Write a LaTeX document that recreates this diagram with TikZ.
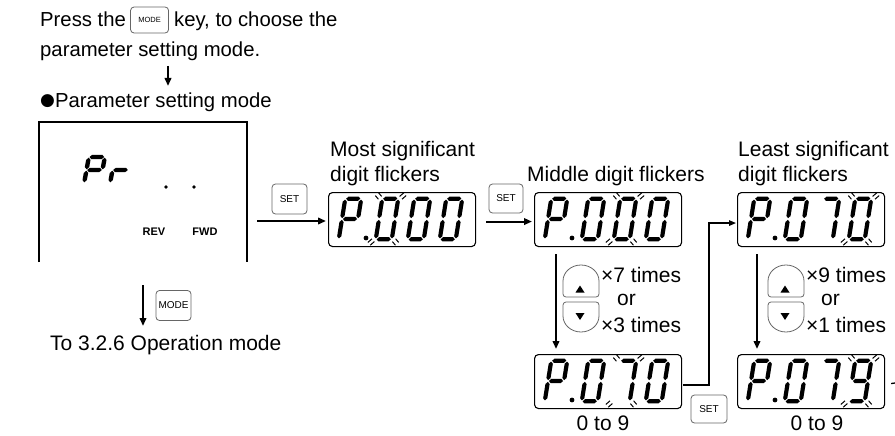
\documentclass[tikz,border=0pt]{standalone}
\usepackage{fontspec}
\setmainfont{Liberation Sans}
\newfontfamily\dejavu{DejaVu Sans}
\usetikzlibrary{arrows.meta,calc}
\def\sgT{2.1}\def\sgW{16}\def\sgH{20.3}\def\sgG{0.9}\def\sgS{0.16}
\def\hsg#1#2#3{\fill ({#1},{#3}) -- ({#1+\sgT},{#3-\sgT}) -- ({#2-\sgT},{#3-\sgT}) -- ({#2},{#3}) -- ({#2-\sgT},{#3+\sgT}) -- ({#1+\sgT},{#3+\sgT}) -- cycle;}
\def\vsg#1#2#3{\fill ({#1},{#2}) -- ({#1+\sgT},{#2+\sgT}) -- ({#1+\sgT},{#3-\sgT}) -- ({#1},{#3}) -- ({#1-\sgT},{#3-\sgT}) -- ({#1-\sgT},{#2+\sgT}) -- cycle;}
\def\sega{\hsg{\sgG}{\sgW-\sgG}{-\sgH}}
\def\segb{\vsg{\sgW}{-\sgH+\sgG}{-\sgG}}
\def\segc{\vsg{\sgW}{\sgG}{\sgH-\sgG}}
\def\segd{\hsg{\sgG}{\sgW-\sgG}{\sgH}}
\def\sege{\vsg{0}{\sgG}{\sgH-\sgG}}
\def\segf{\vsg{0}{-\sgH+\sgG}{-\sgG}}
\def\segg{\hsg{\sgG}{\sgW-\sgG}{0}}
\newcommand\sevdig[3]{\begin{scope}[shift={(#1,#2)},xslant=\sgS]\foreach \q in {#3}{\csname seg\q\endcsname}\end{scope}}
\def\fmk#1#2#3#4{\draw[flk] ({#1-(#4)*1.4},{#2+(#3)*1.4}) -- ++({(#3)*3.6},{(#4)*3.6}); \draw[flk] ({#1+(#4)*1.4},{#2-(#3)*1.4}) -- ++({(#3)*3.6},{(#4)*3.6});}
\newcommand\flkr[2]{\begin{scope}[shift={(#1,#2)},xslant=\sgS]
 \fmk{-\sgT-0.3}{-\sgH-\sgT+1.2}{-1}{-1}
 \fmk{\sgW+\sgT+0.3}{-\sgH-\sgT+1.2}{1}{-1}
 \fmk{-\sgT-0.3}{\sgH+\sgT-1.2}{-1}{1}
 \fmk{\sgW+\sgT+0.3}{\sgH+\sgT-1.2}{1}{1}
\end{scope}}
\newcommand\udk[2]{%
 \draw[keyline, rounded corners=3pt] (#1,{#2+16}) -- (#1,{#2+32}) -- ({#1+36},{#2+32}) -- ({#1+36},{#2+16});
 \draw[keyline] ({#1+36},{#2+16}) arc[start angle=0,end angle=180,x radius=18pt,y radius=16pt];
 \draw[keyline, rounded corners=3pt] (#1,{#2+51}) -- (#1,{#2+37}) -- ({#1+36},{#2+37}) -- ({#1+36},{#2+51});
 \draw[keyline] ({#1+36},{#2+51}) arc[start angle=0,end angle=-180,x radius=18pt,y radius=16pt];
 \fill ({#1+17},{#2+20.5}) -- ({#1+21.5},{#2+27.5}) -- ({#1+12.5},{#2+27.5}) -- cycle;
 \fill ({#1+12.5},{#2+48}) -- ({#1+21.5},{#2+48}) -- ({#1+17},{#2+55}) -- cycle;
}
\begin{document}
\begin{tikzpicture}[x=1pt,y=-1pt,
 txt/.style={inner sep=0pt, font=\fontsize{21}{25}\selectfont},
 toptxt/.style={inner sep=0pt, font=\fontsize{20.3}{24}\selectfont},
 disp/.style={draw, line width=1.1pt, rounded corners=4pt, minimum width=147pt, minimum height=54pt, inner sep=0pt},
 key/.style={draw=black!60, line width=0.8pt, rounded corners=3.5pt, fill=white, inner sep=0pt, minimum width=35pt, minimum height=30pt, font=\fontsize{10}{12}\selectfont},
 arr/.style={line width=2pt, -{Triangle[length=8pt,width=6.5pt]}},
 arrt/.style={line width=1.3pt, -{Triangle[length=7pt,width=5.5pt]}},
 flk/.style={line width=1pt},
 keyline/.style={draw=black!60, line width=0.8pt}]
\useasboundingbox (0,0) rectangle (895,436);

% top text
\node[toptxt, anchor=base west] (l1a) at (40,27) {Press the};
\node[key, minimum width=38pt, minimum height=26pt, font=\fontsize{7.5}{8}\selectfont, anchor=west] (kt) at ($(l1a.base east)+(4,-7)$) {MODE};
\node[toptxt, anchor=base west] (l1b) at ($(kt.east |- l1a.base)+(5,0)$) {key, to choose the};
\node[toptxt, anchor=base west] (l2) at (40,57) {parameter setting mode.};
\coordinate (a0s) at (168,66);
\coordinate (a0e) at (168,86);
\draw[arr] (a0s) -- (a0e);
\node[toptxt, anchor=base west] (l3) at (40,107) {{\dejavu\fontsize{17}{17}\selectfont\raisebox{1.2pt}{●}}Parameter setting mode};

% parameter mode box
\draw[line width=1.3pt] (39,262) -- (39,122) -- (247,122) -- (247,262);
\begin{scope}
\def\sgW{16}\def\sgH{13}\def\sgT{2.2}\def\sgG{0.7}\def\sgS{0.18}
\sevdig{86.5}{170}{a,b,e,f,g}
\sevdig{112.5}{170}{e,g}
\end{scope}
\fill (166,187) circle (1.8pt);
\fill (194,187) circle (1.8pt);
\node[inner sep=0pt, font=\bfseries\fontsize{11}{13}\selectfont] (rev) at (154,232) {REV};
\node[inner sep=0pt, font=\bfseries\fontsize{11}{13}\selectfont] (fwd) at (205,232) {FWD};

% MODE down
\coordinate (ms) at (143,285);
\coordinate (me) at (143,326);
\draw[arr] (ms) -- (me);
\node[key] (k0) at (173.5,305.5) {MODE};
\node[txt, anchor=base west] (t6) at (50,350) {To 3.2.6 Operation mode};

% displays
\node[disp, anchor=north west] (d1) at (328,192) {};
\node[disp, anchor=north west] (d2) at (534,192) {};
\node[disp, anchor=north west] (d3) at (737,192) {};
\node[disp, anchor=north west] (d4) at (534,354) {};
\node[disp, anchor=north west] (d5) at (737,354) {};

% labels
\node[txt, anchor=base west] (lb1a) at (330,156) {Most significant};
\node[txt, anchor=base west] (lb1b) at (330,181) {digit flickers};
\node[txt, anchor=base west] (lb2) at (527,181) {Middle digit flickers};
\node[txt, anchor=base west] (lb3a) at (738,156) {Least significant};
\node[txt, anchor=base west] (lb3b) at (738,181) {digit flickers};

% keys and arrows
\node[key] (k1) at (289.5,199) {SET};
\coordinate (m1) at (257,221);
\draw[arr, shorten >=2pt] (m1) -- (m1 -| d1.west);
\node[key, minimum width=34pt, minimum height=29pt] (k2) at (506,198.5) {SET};
\draw[arr, shorten >=2pt] ($(d1.east)+(10,2)$) -- ($(d2.west)+(0,2)$);
\draw[arr] ($(d2.south west)+(22,7)$) -- ($(d4.north west)+(22,-5)$);
\draw[arr] ($(d3.south west)+(20,7)$) -- ($(d5.north west)+(20,-5)$);
\draw[arrt] ($(d4.east)+(1,3.5)$) -| ($(d3.west)+(-28,3.5)$) -- ($(d3.west)+(-1,3.5)$);
\node[key, minimum width=36pt, minimum height=28pt] (k3) at (709,409) {SET};
\coordinate (tail) at (895,383);
\draw[line width=1.3pt] ($(d5.east)+(6,2)$) -- (tail);

% up/down keys
\udk{563}{265}
\udk{768}{265}
\node[txt, anchor=base west] (x7) at (601,282) {×7 times};
\node[txt, anchor=base west] (or1) at (617,305) {or};
\node[txt, anchor=base west] (x3) at (601,332) {×3 times};
\node[txt, anchor=base west] (x9) at (806,282) {×9 times};
\node[txt, anchor=base west] (or2) at (821,305) {or};
\node[txt, anchor=base west] (x1) at (806,332) {×1 times};
\node[txt, anchor=base] (r1) at (603,430) {0 to 9};
\node[txt, anchor=base] (r2) at (817,430) {0 to 9};

% digits d1
\sevdig{342}{219}{a,b,e,f,g}
\fill (366,238) circle (2.4pt);
\sevdig{379}{219}{a,b,c,d,e,f}
\sevdig{411}{219}{a,b,c,d,e,f}
\sevdig{443}{219}{a,b,c,d,e,f}
\flkr{379}{219}
% d2
\sevdig{548}{219}{a,b,e,f,g}
\fill (572,238) circle (2.4pt);
\sevdig{585}{219}{a,b,c,d,e,f}
\sevdig{617}{219}{a,b,c,d,e,f}
\sevdig{649}{219}{a,b,c,d,e,f}
\flkr{617}{219}
% d3
\sevdig{751}{219}{a,b,e,f,g}
\fill (775,238) circle (2.4pt);
\sevdig{788}{219}{a,b,c,d,e,f}
\sevdig{820}{219}{a,b,c}
\sevdig{852}{219}{a,b,c,d,e,f}
\flkr{852}{219}
% d4
\sevdig{548}{381}{a,b,e,f,g}
\fill (572,400) circle (2.4pt);
\sevdig{585}{381}{a,b,c,d,e,f}
\sevdig{617}{381}{a,b,c}
\sevdig{649}{381}{a,b,c,d,e,f}
\flkr{617}{381}
% d5
\sevdig{751}{381}{a,b,e,f,g}
\fill (775,400) circle (2.4pt);
\sevdig{788}{381}{a,b,c,d,e,f}
\sevdig{820}{381}{a,b,c}
\sevdig{852}{381}{a,b,c,d,f,g}
\flkr{852}{381}
\end{tikzpicture}
\end{document}
